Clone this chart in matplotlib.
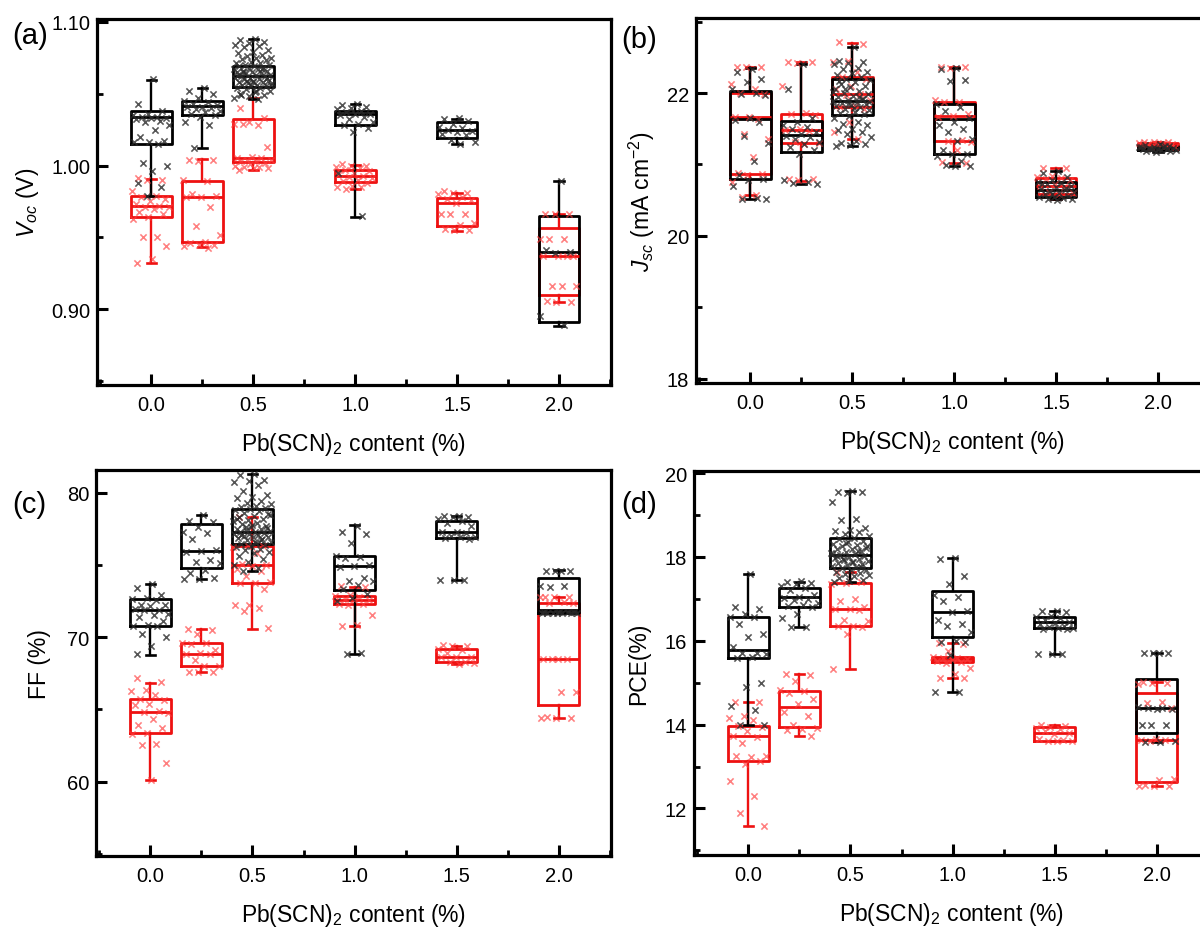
import numpy as np
import matplotlib
matplotlib.use("Agg")
import matplotlib.pyplot as plt
from matplotlib.ticker import MultipleLocator, FormatStrFormatter

plt.rcParams['font.family'] = ['Liberation Sans', 'DejaVu Sans']
plt.rcParams['mathtext.fontset'] = 'custom'
plt.rcParams['mathtext.rm'] = 'Liberation Sans'
plt.rcParams['mathtext.it'] = 'Liberation Sans:italic'

# ---------------- categories ----------------
contents = [0.0, 0.25, 0.5, 1.0, 1.5, 2.0]
xtick_vals = [0.0, 0.5, 1.0, 1.5, 2.0]

# ---------------- (a) Voc ----------------
voc_black_q1 = [1.015, 1.035, 1.0545, 1.0283, 1.0193, 0.891]
voc_black_med = [1.0336, 1.0413, 1.0622, 1.036, 1.0248, 0.9397]
voc_black_q3 = [1.0378, 1.0445, 1.0691, 1.0378, 1.0302, 0.9647]
voc_black_lo = [0.9787, 1.0123, 1.0464, 0.964, 1.0151, 0.8886]
voc_black_hi = [1.0596, 1.054, 1.0882, 1.0427, 1.0325, 0.9889]
voc_red_q1 = [0.964, 0.9469, 1.0023, 0.9884, 0.9582, 0.910]
voc_red_med = [0.9717, 0.978, 1.0051, 0.993, 0.974, 0.9374]
voc_red_q3 = [0.9787, 0.9891, 1.0325, 0.9972, 0.9775, 0.9564]
voc_red_lo = [0.9322, 0.9432, 0.9972, 0.9838, 0.9543, 0.9049]
voc_red_hi = [0.9907, 1.0042, 1.047, 1.0007, 0.981, 0.9664]
voc_black_pts = [
    [1.060, 1.043, 1.038, 1.036, 1.035, 1.034, 1.034, 1.033, 1.033, 1.032, 1.031, 1.030, 1.028,
     1.025, 1.020, 1.017, 1.016, 1.016, 1.015, 1.002, 1.000, 0.996, 0.988, 0.985, 0.979],
    [1.054, 1.052, 1.050, 1.047, 1.045, 1.044, 1.043, 1.042, 1.041, 1.041, 1.040, 1.039, 1.038,
     1.037, 1.036, 1.035, 1.034, 1.030, 1.028, 1.012],
    [1.088, 1.087, 1.086, 1.085, 1.084, 1.083, 1.082, 1.080, 1.079, 1.078, 1.077, 1.076, 1.075,
     1.075, 1.074, 1.073, 1.072, 1.071, 1.071, 1.070, 1.070, 1.069, 1.069, 1.068, 1.068, 1.067,
     1.067, 1.066, 1.066, 1.065, 1.065, 1.064, 1.064, 1.063, 1.063, 1.062, 1.062, 1.061, 1.061,
     1.060, 1.060, 1.059, 1.059, 1.058, 1.058, 1.057, 1.057, 1.056, 1.056, 1.055, 1.055, 1.054,
     1.054, 1.053, 1.052, 1.051, 1.050, 1.049, 1.048, 1.047, 1.046, 1.065, 1.061, 1.058, 1.063,
     1.067, 1.059, 1.056, 1.052, 1.049],
    [1.043, 1.042, 1.041, 1.040, 1.039, 1.038, 1.037, 1.036, 1.036, 1.035, 1.034, 1.032, 1.030,
     1.029, 1.028, 1.026, 1.023, 0.995, 0.965],
    [1.033, 1.032, 1.031, 1.029, 1.027, 1.026, 1.025, 1.024, 1.023, 1.022, 1.021, 1.018, 1.016, 1.015],
    [0.989, 0.941, 0.940, 0.939, 0.8955, 0.889],
]
voc_red_pts = [
    [0.991, 0.990, 0.990, 0.982, 0.979, 0.978, 0.977, 0.975, 0.973, 0.972, 0.971, 0.971, 0.970,
     0.968, 0.966, 0.964, 0.963, 0.950, 0.950, 0.944, 0.935, 0.932],
    [1.004, 1.004, 1.003, 0.990, 0.989, 0.980, 0.979, 0.978, 0.978, 0.971, 0.958, 0.952, 0.947,
     0.946, 0.945, 0.945, 0.944, 0.943],
    [1.040, 1.033, 1.030, 1.029, 1.028, 1.029, 1.013, 1.006, 1.005, 1.005, 1.004, 1.004, 1.003,
     1.003, 1.002, 1.001, 1.000, 0.999, 0.999, 0.998, 0.998, 0.997],
    [1.001, 1.000, 1.000, 0.999, 0.998, 0.997, 0.996, 0.995, 0.994, 0.993, 0.992, 0.991, 0.990,
     0.989, 0.988, 0.986, 0.985, 0.985, 0.984],
    [0.982, 0.981, 0.981, 0.980, 0.978, 0.977, 0.976, 0.974, 0.966, 0.966, 0.966, 0.960, 0.959,
     0.956, 0.955, 0.955],
    [0.966, 0.966, 0.966, 0.949, 0.949, 0.949, 0.937, 0.937, 0.937, 0.937, 0.916, 0.916, 0.916,
     0.906, 0.905, 0.905],
]

# ---------------- (b) Jsc ----------------
jsc_black_q1 = [20.79, 21.17, 21.69, 21.14, 20.55, 21.20]
jsc_black_med = [21.63, 21.41, 21.89, 21.64, 20.64, 21.23]
jsc_black_q3 = [22.03, 21.61, 22.20, 21.85, 20.76, 21.26]
jsc_black_lo = [20.52, 20.73, 21.26, 20.98, 20.51, 21.18]
jsc_black_hi = [22.35, 22.41, 22.64, 22.35, 20.91, 21.28]
jsc_red_q1 = [20.86, 21.30, 21.80, 21.33, 20.58, 21.24]
jsc_red_med = [21.66, 21.48, 21.98, 21.68, 20.70, 21.27]
jsc_red_q3 = [22.00, 21.71, 22.22, 21.88, 20.81, 21.30]
jsc_red_lo = [20.57, 20.77, 21.35, 21.02, 20.52, 21.22]
jsc_red_hi = [22.37, 22.44, 22.70, 22.36, 20.95, 21.32]
jsc_black_pts = [
    [22.33, 22.30, 22.20, 22.15, 22.05, 22.00, 21.98, 21.97, 21.65, 21.62, 21.60, 21.40, 21.30,
     21.05, 20.85, 20.80, 20.78, 20.70, 20.53, 20.52, 20.52],
    [22.40, 22.05, 21.65, 21.60, 21.55, 21.53, 21.50, 21.45, 21.42, 21.40, 21.38, 21.35, 21.32,
     21.28, 21.25, 21.20, 21.15, 20.78, 20.76, 20.74, 20.73],
    [22.64, 22.45, 22.43, 22.42, 22.40, 22.35, 22.33, 22.30, 22.28, 22.25, 22.22, 22.20, 22.18,
     22.15, 22.12, 22.10, 22.08, 22.05, 22.03, 22.00, 21.98, 21.96, 21.94, 21.92, 21.90, 21.89,
     21.88, 21.86, 21.85, 21.83, 21.82, 21.80, 21.78, 21.76, 21.74, 21.72, 21.70, 21.68, 21.65,
     21.60, 21.57, 21.55, 21.50, 21.48, 21.45, 21.42, 21.38, 21.33, 21.30, 21.28, 21.27, 21.26,
     21.95, 22.06, 21.87, 21.79, 22.17, 21.91, 21.84, 22.02],
    [22.35, 22.33, 22.18, 22.17, 21.85, 21.80, 21.75, 21.65, 21.60, 21.55, 21.50, 21.45, 21.35,
     21.33, 21.20, 21.15, 21.14, 21.12, 21.05, 20.99, 20.98, 20.98],
    [20.91, 20.88, 20.82, 20.78, 20.76, 20.74, 20.72, 20.70, 20.68, 20.66, 20.64, 20.63, 20.62,
     20.60, 20.58, 20.56, 20.55, 20.54, 20.53, 20.52, 20.51, 20.50, 20.72, 20.67, 20.59],
    [21.28, 21.27, 21.26, 21.25, 21.25, 21.24, 21.23, 21.23, 21.22, 21.22, 21.21, 21.21, 21.20,
     21.20, 21.19, 21.19, 21.18, 21.24, 21.26, 21.22],
]
jsc_red_pts = [
    [22.37, 22.37, 22.36, 22.12, 22.05, 22.00, 21.98, 21.66, 21.66, 21.64, 21.42, 21.35, 21.10,
     20.88, 20.86, 20.85, 20.75, 20.57, 20.55],
    [22.44, 22.44, 22.42, 22.10, 21.72, 21.70, 21.69, 21.50, 21.48, 21.47, 21.32, 21.30, 21.29,
     20.80, 20.79, 20.78],
    [22.72, 22.69, 22.45, 22.43, 22.30, 22.22, 22.20, 22.10, 22.05, 21.98, 21.97, 21.90, 21.82,
     21.80, 21.78, 21.60, 21.45, 21.36],
    [22.37, 22.36, 22.35, 21.90, 21.88, 21.87, 21.70, 21.68, 21.66, 21.34, 21.33, 21.32, 21.20,
     21.03, 21.02],
    [20.95, 20.95, 20.84, 20.82, 20.81, 20.80, 20.78, 20.72, 20.70, 20.69, 20.62, 20.60, 20.58],
    [21.32, 21.31, 21.31, 21.30, 21.30, 21.29, 21.28, 21.28, 21.27, 21.26, 21.25, 21.24],
]

# ---------------- (c) FF ----------------
ff_black_q1 = [70.78, 74.80, 76.46, 73.29, 76.84, 71.66]
ff_black_med = [71.90, 75.93, 77.25, 74.90, 77.29, 71.86]
ff_black_q3 = [72.62, 77.84, 78.85, 75.62, 78.01, 74.06]
ff_black_lo = [68.79, 74.01, 74.59, 68.86, 73.94, 71.66]
ff_black_hi = [73.65, 78.44, 81.25, 77.72, 78.40, 74.61]
ff_red_q1 = [63.33, 67.98, 73.77, 72.26, 68.26, 65.27]
ff_red_med = [64.79, 68.86, 75.02, 72.57, 68.62, 68.46]
ff_red_q3 = [65.68, 69.58, 76.29, 72.86, 69.17, 72.38]
ff_red_lo = [60.12, 67.55, 70.59, 70.78, 68.14, 64.43]
ff_red_hi = [66.83, 70.54, 78.30, 73.49, 69.41, 72.77]
ff_black_pts = [
    [73.65, 73.40, 72.90, 72.70, 72.60, 72.55, 72.25, 72.20, 72.15, 71.95, 71.90, 71.85, 71.60,
     71.50, 71.40, 71.10, 70.85, 70.78, 70.75, 70.20, 70.00, 69.40, 68.80],
    [78.45, 78.05, 77.95, 77.60, 77.25, 77.20, 76.80, 76.00, 75.95, 75.90, 75.30, 75.20, 75.15,
     74.65, 74.40, 74.10, 74.00, 74.00],
    [81.25, 81.20, 80.85, 80.80, 80.70, 80.50, 80.10, 79.85, 79.70, 79.60, 79.40, 79.30, 79.20,
     79.10, 79.00, 78.90, 78.85, 78.80, 78.70, 78.60, 78.50, 78.40, 78.30, 78.20, 78.10, 78.00,
     77.90, 77.80, 77.70, 77.60, 77.50, 77.45, 77.40, 77.35, 77.30, 77.25, 77.20, 77.15, 77.10,
     77.05, 77.00, 76.95, 76.90, 76.85, 76.80, 76.70, 76.60, 76.50, 76.46, 76.40, 76.30, 76.20,
     76.10, 76.00, 75.90, 75.80, 75.60, 75.40, 75.20, 75.00, 74.80, 74.60, 77.55, 77.75, 78.15,
     76.75, 77.65, 78.45, 76.55, 77.05],
    [77.70, 77.30, 77.10, 76.50, 75.60, 75.55, 75.50, 75.00, 74.90, 74.85, 74.10, 73.90, 73.85,
     73.60, 73.30, 73.00, 72.70, 72.50, 68.90, 68.80],
    [78.40, 78.35, 78.30, 78.30, 78.20, 78.05, 77.90, 77.70, 77.30, 77.25, 77.20, 77.00, 76.95,
     76.90, 76.85, 76.80, 73.95, 73.95, 73.95],
    [74.60, 74.60, 74.60, 74.60, 73.50, 73.50, 73.45, 71.75, 71.72, 71.70, 71.70, 71.68, 71.68,
     71.66, 71.66, 71.66, 71.65, 71.65],
]
ff_red_pts = [
    [67.20, 66.90, 66.35, 66.30, 66.00, 65.70, 65.65, 65.40, 65.30, 64.85, 64.80, 64.75, 64.30,
     63.90, 63.70, 63.35, 63.30, 62.60, 62.55, 61.30, 60.10],
    [70.55, 70.50, 70.20, 69.60, 69.58, 69.55, 69.10, 68.90, 68.86, 68.85, 68.40, 68.00, 67.98,
     67.60, 67.58, 67.55],
    [78.30, 76.30, 76.28, 76.25, 75.80, 75.05, 75.00, 74.95, 74.70, 74.60, 74.20, 73.80, 73.77,
     73.75, 73.30, 72.20, 72.20, 72.00, 71.80, 70.60],
    [73.50, 73.45, 72.90, 72.86, 72.80, 72.60, 72.57, 72.55, 72.30, 72.26, 72.20, 71.50, 70.80, 70.78],
    [69.45, 69.41, 69.40, 69.20, 69.10, 68.90, 68.65, 68.62, 68.60, 68.30, 68.28, 68.20, 68.15],
    [72.80, 72.78, 72.78, 72.75, 72.40, 72.38, 72.35, 68.48, 68.46, 68.46, 68.45, 66.20, 66.20,
     64.45, 64.43, 64.43, 64.43],
]

# ---------------- (d) PCE ----------------
pce_black_q1 = [15.60, 16.81, 17.73, 16.09, 16.31, 13.80]
pce_black_med = [15.78, 17.04, 18.05, 16.69, 16.45, 14.39]
pce_black_q3 = [16.57, 17.27, 18.46, 17.19, 16.57, 15.08]
pce_black_lo = [14.00, 16.33, 17.41, 14.78, 15.68, 13.59]
pce_black_hi = [17.60, 17.41, 19.58, 17.98, 16.71, 15.70]
pce_red_q1 = [13.13, 13.94, 16.35, 15.50, 13.62, 12.63]
pce_red_med = [13.74, 14.42, 16.75, 15.56, 13.80, 13.64]
pce_red_q3 = [13.96, 14.80, 17.39, 15.61, 13.94, 14.76]
pce_red_lo = [11.57, 13.72, 15.32, 15.12, 13.60, 12.53]
pce_red_hi = [14.54, 15.20, 17.65, 15.95, 14.00, 15.01]
pce_black_pts = [
    [17.60, 16.80, 16.75, 16.65, 16.57, 16.56, 16.40, 16.15, 16.10, 15.85, 15.72, 15.70, 15.68,
     15.62, 15.60, 15.00, 14.90, 14.45, 14.35, 14.00, 14.00],
    [17.42, 17.40, 17.38, 17.35, 17.30, 17.25, 17.20, 17.10, 17.05, 17.02, 17.00, 16.98, 16.90,
     16.85, 16.82, 16.80, 16.65, 16.55, 16.34, 16.33],
    [19.58, 19.56, 19.55, 19.52, 19.30, 18.90, 18.88, 18.70, 18.65, 18.62, 18.60, 18.55, 18.50,
     18.46, 18.42, 18.38, 18.35, 18.30, 18.28, 18.25, 18.22, 18.20, 18.18, 18.15, 18.12, 18.10,
     18.08, 18.05, 18.03, 18.00, 17.98, 17.95, 17.92, 17.90, 17.88, 17.85, 17.82, 17.80, 17.78,
     17.75, 17.73, 17.70, 17.68, 17.65, 17.62, 17.60, 17.58, 17.55, 17.50, 17.45, 17.42, 17.41,
     18.13, 17.96, 18.27, 17.87, 18.02, 17.77, 18.33, 18.07],
    [17.98, 17.95, 17.55, 17.35, 17.10, 17.05, 16.95, 16.70, 16.68, 16.50, 16.40, 16.35, 16.20,
     16.00, 15.98, 15.97, 15.65, 14.78, 14.78],
    [16.71, 16.70, 16.68, 16.60, 16.57, 16.55, 16.50, 16.45, 16.42, 16.40, 16.35, 16.33, 16.31,
     16.30, 16.28, 16.27, 15.68, 15.68, 15.68],
    [15.70, 15.70, 15.70, 15.70, 14.42, 14.40, 14.40, 14.38, 14.38, 14.00, 14.00, 14.00, 13.60,
     13.59, 13.59],
]
pce_red_pts = [
    [14.55, 14.54, 14.20, 14.15, 14.10, 13.97, 13.95, 13.85, 13.74, 13.70, 13.55, 13.25, 13.22,
     13.24, 13.13, 13.05, 12.65, 12.30, 11.90, 11.57],
    [15.20, 15.18, 15.05, 14.82, 14.80, 14.75, 14.60, 14.50, 14.30, 14.20, 14.00, 13.92, 13.90,
     13.88, 13.72],
    [17.65, 17.40, 17.38, 17.35, 17.00, 16.95, 16.80, 16.76, 16.75, 16.74, 16.50, 16.48, 16.36,
     16.35, 16.34, 16.15, 15.32],
    [15.95, 15.93, 15.75, 15.62, 15.60, 15.58, 15.56, 15.55, 15.52, 15.50, 15.48, 15.35, 15.20,
     15.12, 15.12],
    [14.00, 13.97, 13.95, 13.93, 13.90, 13.85, 13.80, 13.78, 13.65, 13.63, 13.62, 13.61, 13.60],
    [15.02, 15.00, 15.00, 14.98, 14.55, 14.52, 14.40, 13.65, 13.64, 13.64, 13.62, 12.70, 12.68,
     12.55, 12.53, 12.53, 12.53],
]

BLACK = '#000000'
RED = '#ee1111'
XLABEL = 'Pb(SCN)$_{\\mathrm{2}}$ content (%)'


def make_stats(q1, med, q3, lo, hi):
    return [dict(q1=a, med=b, q3=c, whislo=d, whishi=e, fliers=[])
            for a, b, c, d, e in zip(q1, med, q3, lo, hi)]


def jitter(n, phase):
    k = np.arange(n)
    return (((k * 0.6180339887 + phase) % 1.0) - 0.5) * 0.19


def draw_boxes(ax, stats, color):
    lw = 2.0
    ax.bxp(stats, positions=contents, widths=0.2, capwidths=0.045,
           showfliers=False, manage_ticks=False,
           boxprops=dict(color=color, linewidth=lw),
           whiskerprops=dict(color=color, linewidth=1.7),
           capprops=dict(color=color, linewidth=1.9),
           medianprops=dict(color=color, linewidth=lw))


def draw_points(ax, pts, color, alpha, phase):
    for xc, vals in zip(contents, pts):
        xs = xc + jitter(len(vals), phase)
        ax.scatter(xs, vals, marker='x', s=20, linewidths=1.15,
                   color=color, alpha=alpha, zorder=4)


panels = [
    dict(rect=[97 / 1200, 1 - 386 / 929, 514 / 1200, 366 / 929], ylim=(0.8475, 1.1018),
         major=0.1, minor=0.05, fmt='%.2f',
         ylabel='$V_{oc}$ (V)', ylx=-0.108, tag='(a)', tagpos=(12, 36),
         b=(voc_black_q1, voc_black_med, voc_black_q3, voc_black_lo, voc_black_hi),
         r=(voc_red_q1, voc_red_med, voc_red_q3, voc_red_lo, voc_red_hi),
         bp=voc_black_pts, rp=voc_red_pts),
    dict(rect=[696 / 1200, 1 - 384 / 929, 514 / 1200, 365 / 929], ylim=(17.94, 23.05),
         major=2, minor=1, fmt='%d',
         ylabel='$J_{sc}$ (mA cm$^{\\mathrm{-2}}$)', ylx=-0.075, tag='(b)', tagpos=(621, 40),
         b=(jsc_black_q1, jsc_black_med, jsc_black_q3, jsc_black_lo, jsc_black_hi),
         r=(jsc_red_q1, jsc_red_med, jsc_red_q3, jsc_red_lo, jsc_red_hi),
         bp=jsc_black_pts, rp=jsc_red_pts),
    dict(rect=[96 / 1200, 1 - 857 / 929, 515 / 1200, 386 / 929], ylim=(54.85, 81.56),
         major=10, minor=5, fmt='%d',
         ylabel='FF (%)', ylx=-0.088, tag='(c)', tagpos=(12, 505),
         b=(ff_black_q1, ff_black_med, ff_black_q3, ff_black_lo, ff_black_hi),
         r=(ff_red_q1, ff_red_med, ff_red_q3, ff_red_lo, ff_red_hi),
         bp=ff_black_pts, rp=ff_red_pts),
    dict(rect=[694 / 1200, 1 - 856 / 929, 515 / 1200, 384 / 929], ylim=(10.89, 20.05),
         major=2, minor=1, fmt='%d',
         ylabel='PCE(%)', ylx=-0.086, tag='(d)', tagpos=(621, 505),
         b=(pce_black_q1, pce_black_med, pce_black_q3, pce_black_lo, pce_black_hi),
         r=(pce_red_q1, pce_red_med, pce_red_q3, pce_red_lo, pce_red_hi),
         bp=pce_black_pts, rp=pce_red_pts),
]

fig = plt.figure(figsize=(12, 9.29), dpi=100)

for p in panels:
    ax = fig.add_axes(p['rect'])
    draw_boxes(ax, make_stats(*p['r']), RED)
    draw_boxes(ax, make_stats(*p['b']), BLACK)
    draw_points(ax, p['rp'], '#ff3b3b', 0.65, 0.15)
    draw_points(ax, p['bp'], '#2a2a2a', 0.8, 0.55)

    ax.set_xlim(-0.266, 2.255)
    ax.set_ylim(*p['ylim'])
    ax.set_xticks(xtick_vals)
    ax.set_xticklabels(['%.1f' % v for v in xtick_vals])
    ax.xaxis.set_minor_locator(MultipleLocator(0.25))
    ax.yaxis.set_major_locator(MultipleLocator(p['major']))
    ax.yaxis.set_minor_locator(MultipleLocator(p['minor']))
    ax.yaxis.set_major_formatter(FormatStrFormatter(p['fmt']))
    ax.tick_params(which='major', direction='in', length=8, width=2.2,
                   labelsize=14.5, top=False, right=False)
    ax.tick_params(axis='x', which='major', pad=7)
    ax.tick_params(axis='y', which='major', pad=5)
    ax.tick_params(which='minor', direction='in', length=4.5, width=2.0,
                   top=False, right=False)
    for s in ax.spines.values():
        s.set_linewidth(2.3)
    ax.set_xlabel(XLABEL, fontsize=16.5, labelpad=12)
    ax.set_ylabel(p['ylabel'], fontsize=16.5)
    ax.yaxis.set_label_coords(p['ylx'], 0.5)
    fig.text(p['tagpos'][0] / 1200, 1 - p['tagpos'][1] / 929, p['tag'],
             fontsize=21, ha='left', va='center')

fig.savefig('out.png', dpi=100)
